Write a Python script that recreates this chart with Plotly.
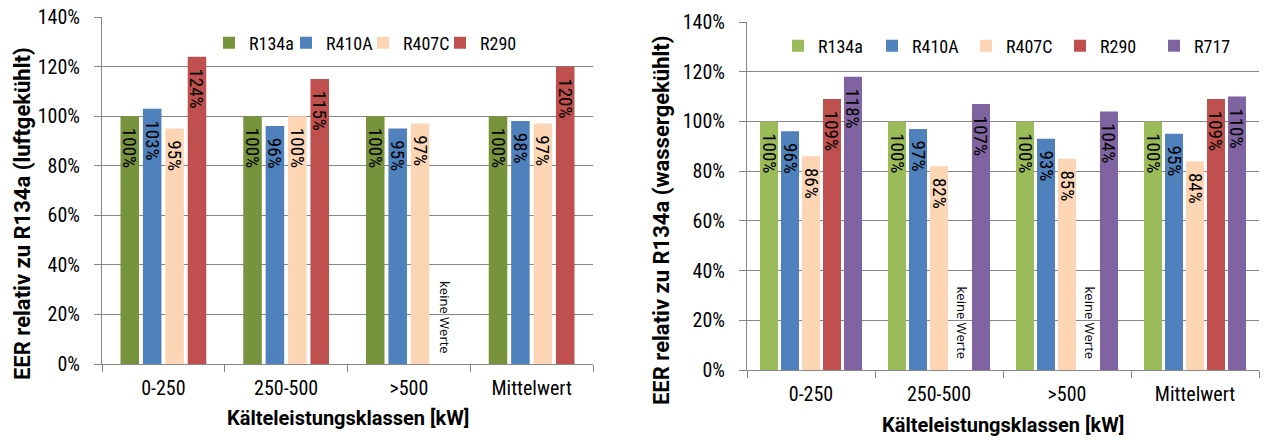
import plotly.graph_objects as go

categories = ["0-250", "250-500", ">500", "Mittelwert"]

# Left chart: EER relative to R134a (air-cooled), in percent
left_series = ["R134a", "R410A", "R407C", "R290"]
left_R134a = [100, 100, 100, 100]
left_R410A = [103, 96, 95, 98]
left_R407C = [95, 100, 97, 97]
left_R290 = [124, 115, None, 120]
left_values = [left_R134a, left_R410A, left_R407C, left_R290]
left_colors = ["#77933C", "#4F81BD", "#FCD5B5", "#C0504D"]

# Right chart: EER relative to R134a (water-cooled), in percent
right_series = ["R134a", "R410A", "R407C", "R290", "R717"]
right_R134a = [100, 100, 100, 100]
right_R410A = [96, 97, 93, 95]
right_R407C = [86, 82, 85, 84]
right_R290 = [109, None, None, 109]
right_R717 = [118, 107, 104, 110]
right_values = [right_R134a, right_R410A, right_R407C, right_R290, right_R717]
right_colors = ["#9BBB59", "#4F81BD", "#FCD5B5", "#C0504D", "#8064A2"]

missing_label = "keine Werte"
y_ticks = [0, 20, 40, 60, 80, 100, 120, 140]
y_ticktext = ["0%", "20%", "40%", "60%", "80%", "100%", "120%", "140%"]

x_title = "Kälteleistungsklassen [kW]"
left_y_title = "EER relativ zu R134a (luftgekühlt)"
right_y_title = "EER relativ zu R134a (wassergekühlt)"

FONT = "Roboto Condensed, Liberation Sans Narrow, DejaVu Sans Condensed, sans-serif"
TITLE_FONT = "Roboto, DejaVu Sans, sans-serif"
NOTE_FONT = "Open Sans, Noto Sans, sans-serif"
GRID = "#868686"

ML, MR, MT, MB = 100, 4, 17, 70
PW, PH = 1264 - ML - MR, 440 - MT - MB


def px_x(px):
    return (px - ML) / PW


def px_y(py):
    return (440 - py - MB) / PH


fig = go.Figure()


def add_group(values, names, colors, xaxis, yaxis, legend, slot, width):
    n = len(values)
    group = slot * n
    ann = []
    for i, (vals, name, col) in enumerate(zip(values, names, colors)):
        off = -group / 2 + i * slot + (slot - width) / 2
        fig.add_trace(go.Bar(
            x=categories, y=vals, name=name,
            marker=dict(color=col, line=dict(width=0)),
            width=width, offset=off,
            xaxis=xaxis, yaxis=yaxis, legend=legend,
            text=[("\u00a0\u00a0%d%%" % v) if v is not None else "" for v in vals],
            textposition="inside", insidetextanchor="end", textangle=90,
            constraintext="none",
            textfont=dict(family=FONT, size=19, color="black"),
            hoverinfo="x+y+name",
        ))
        for j, v in enumerate(vals):
            if v is None:
                ann.append(dict(
                    x=j + off + width / 2, y=0, xref=xaxis, yref=yaxis,
                    text=missing_label, textangle=90, showarrow=False,
                    xanchor="center", yanchor="bottom", yshift=8, xshift=3,
                    font=dict(family=NOTE_FONT, size=13, color="black"),
                ))
    return ann


annotations = []
annotations += add_group(left_values, left_series, left_colors, "x", "y", "legend", 0.1825, 0.151)
annotations += add_group(right_values, right_series, right_colors, "x2", "y2", "legend2", 0.164, 0.1406)

ytitle_font = dict(family=TITLE_FONT, size=22, color="black")
xtitle_font = dict(family=TITLE_FONT, size=20, color="black")
annotations += [
    dict(text="<b>%s</b>" % left_y_title, textangle=-90, x=px_x(22), y=px_y(214),
         xref="paper", yref="paper", showarrow=False, font=ytitle_font,
         xanchor="center", yanchor="middle"),
    dict(text="<b>%s</b>" % right_y_title, textangle=-90, x=px_x(661), y=px_y(220),
         xref="paper", yref="paper", showarrow=False, font=ytitle_font,
         xanchor="center", yanchor="middle"),
    dict(text="<b>%s</b>" % x_title, x=px_x(348), y=px_y(418),
         xref="paper", yref="paper", showarrow=False, font=xtitle_font,
         xanchor="center", yanchor="middle"),
    dict(text="<b>%s</b>" % x_title, x=px_x(1003), y=px_y(425),
         xref="paper", yref="paper", showarrow=False, font=xtitle_font,
         xanchor="center", yanchor="middle"),
]

yaxis_common = dict(
    range=[0, 140], tickmode="array", tickvals=y_ticks, ticktext=y_ticktext,
    ticks="outside", ticklen=7, tickcolor=GRID, showgrid=True, gridcolor=GRID,
    gridwidth=1, zeroline=False, showline=True, linecolor=GRID, linewidth=1,
    automargin=False, ticklabelstandoff=10,
    tickfont=dict(family=FONT, size=20, color="black"),
)
xaxis_common = dict(
    tickson="boundaries", ticks="outside", ticklen=7, tickcolor=GRID,
    range=[-0.5, 3.5], showline=True, linecolor=GRID, linewidth=1,
    automargin=False, ticklabelstandoff=6,
    tickfont=dict(family=FONT, size=20, color="black"),
)
legend_common = dict(
    orientation="h", xanchor="left", yanchor="middle",
    bgcolor="rgba(0,0,0,0)", itemwidth=30, entrywidthmode="pixels",
    tracegroupgap=0, font=dict(family=FONT, size=18, color="black"),
)

fig.update_layout(
    width=1264, height=440,
    margin=dict(l=ML, r=MR, t=MT, b=MB),
    paper_bgcolor="white", plot_bgcolor="white",
    barmode="overlay",
    showlegend=True,
    annotations=annotations,
    xaxis=dict(domain=[px_x(102), px_x(593)], anchor="y", **xaxis_common),
    yaxis=dict(domain=[px_y(364), px_y(17)], anchor="x", **yaxis_common),
    xaxis2=dict(domain=[px_x(747), px_x(1259)], anchor="y2", **xaxis_common),
    yaxis2=dict(domain=[px_y(370), px_y(22)], anchor="x2", **yaxis_common),
    legend=dict(x=px_x(209), y=px_y(43), entrywidth=32, **legend_common),
    legend2=dict(x=px_x(778), y=px_y(46), entrywidth=49, **legend_common),
)

fig.write_html("out.html", post_script="document.body.style.margin='0';",
               config={"displayModeBar": False})
